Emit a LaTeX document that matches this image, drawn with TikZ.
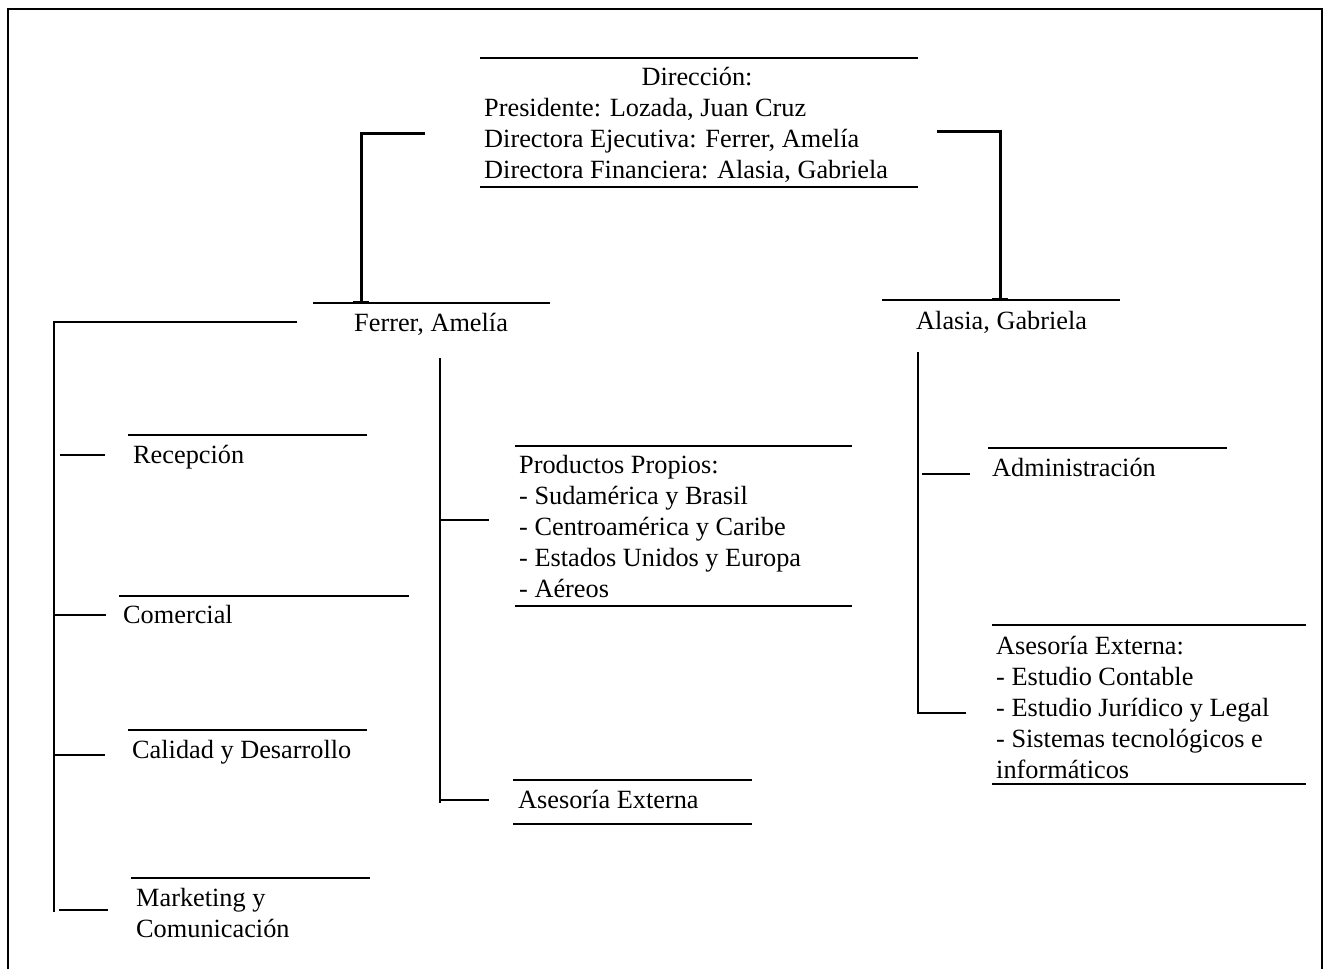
\documentclass[tikz,border=0pt]{standalone}
\usepackage{fontspec}
\setmainfont{Liberation Serif}
\newcommand{\fs}{\rule{0pt}{22pt}}
\begin{document}
\begin{tikzpicture}[x=1pt,y=-1pt,
  txt/.style={font=\fontsize{26.3}{31}\selectfont, inner sep=0pt, anchor=base west},
  blk/.style={txt, anchor=north west, align=left},
  rulel/.style={line width=1.6pt},
  elbow/.style={line width=3pt},
  twig/.style={line width=1.2pt}]
\useasboundingbox (0,0) rectangle (1327,969);
\draw[line width=1.5pt] (8,969) -- (8,9) -- (1322,9) -- (1322,969);

% Direction box
\draw[rulel] (480,58) -- (918,58);
\draw[rulel] (480,187) -- (918,187);
\node[txt, anchor=base] (dir) at (697,85) {Dirección:};
\node[blk] (dirlist) at (484,94) {\fs Presidente: Lozada, Juan Cruz\\Directora Ejecutiva: Ferrer, Amelía\\Directora Financiera: Alasia, Gabriela};

% Ferrer
\draw[rulel] (313,303) -- (550,303);
\node[txt] (ferrer) at (354,331) {Ferrer, Amelía};
% Alasia
\draw[rulel] (882,300) -- (1120,300);
\node[txt] (alasia) at (916,329) {Alasia, Gabriela};

% elbows
\coordinate (eL) at (425,133);
\coordinate (eLb) at (361,302);
\draw[elbow] (eL) -- (361,133) -- (eLb);
\draw[elbow] (353,302) -- (369,302);
\coordinate (eR) at (937,131);
\coordinate (eRb) at (1000,299);
\draw[elbow] (eR) -- (1000,131) -- (eRb);
\draw[elbow] (992,299) -- (1008,299);

% left bracket
\draw[rulel] (297,322) -- (54,322) -- (54,912);
\draw[twig] (60,455) -- (105,455);
\draw[rulel] (54,615) -- (106,615);
\draw[twig] (54,755) -- (105,755);
\draw[rulel] (59,910) -- (108,910);

\draw[rulel] (128,435) -- (367,435);
\node[txt] (recep) at (133,463) {Recepción};
\draw[rulel] (119,596) -- (409,596);
\node[txt] (comer) at (123,623) {Comercial};
\draw[rulel] (128,730) -- (367,730);
\node[txt] (calid) at (132,758) {Calidad y Desarrollo};
\draw[rulel] (131,878) -- (370,878);
\node[blk] (mkt) at (136,884) {\fs Marketing y\\Comunicación};

% Ferrer vertical
\draw[twig] (440,358) -- (440,803);
\draw[twig] (440,520) -- (489,520);
\draw[twig] (440,800) -- (489,800);

\draw[rulel] (515,446) -- (852,446);
\node[blk] (prod) at (519,451) {\fs Productos Propios:\\- Sudamérica y Brasil\\- Centroamérica y Caribe\\- Estados Unidos y Europa\\- Aéreos};
\draw[rulel] (515,606) -- (852,606);

\draw[rulel] (513,780) -- (752,780);
\node[txt] (asesL) at (518,808) {Asesoría Externa};
\draw[rulel] (513,824) -- (752,824);

% Alasia vertical
\draw[twig] (918,352) -- (918,713) -- (966,713);
\draw[twig] (922,474) -- (970,474);

\draw[rulel] (988,448) -- (1227,448);
\node[txt] (admin) at (992,476) {Administración};

\draw[rulel] (992,625) -- (1306,625);
\node[blk] (asesR) at (996,632) {\fs Asesoría Externa:\\- Estudio Contable\\- Estudio Jurídico y Legal\\- Sistemas tecnológicos e\\informáticos};
\draw[rulel] (992,784) -- (1306,784);
\end{tikzpicture}
\end{document}
